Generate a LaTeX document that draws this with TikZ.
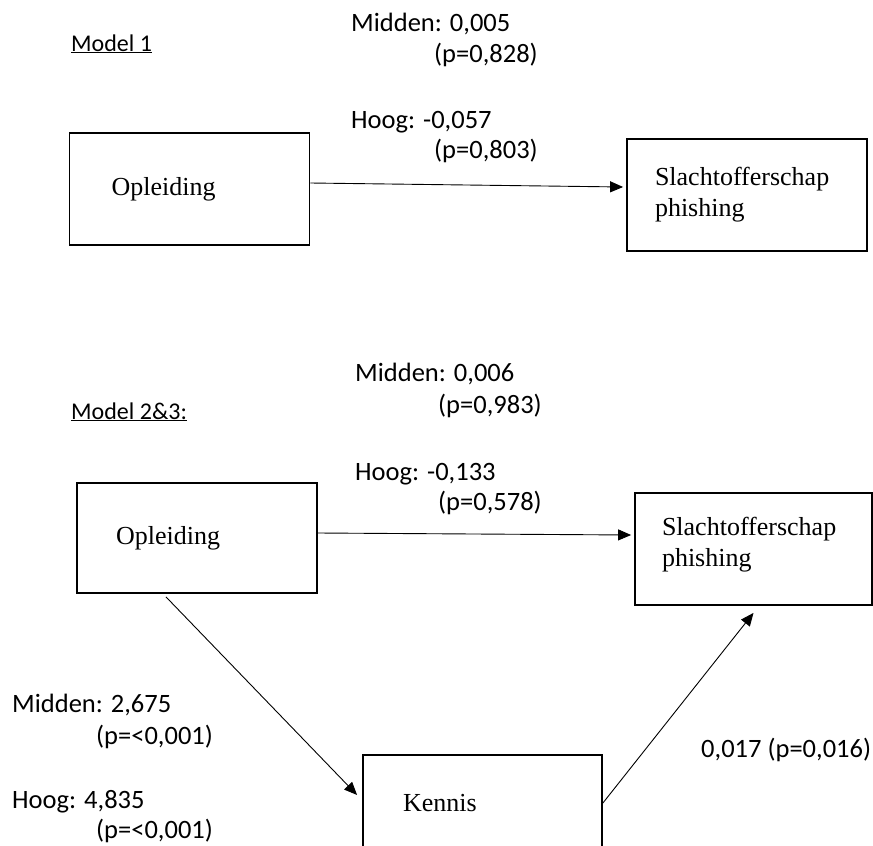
\documentclass[tikz,border=0pt]{standalone}
\usepackage{fontspec}
\setmainfont{Carlito}
\newfontfamily\boxfont{Liberation Serif}
\usetikzlibrary{arrows.meta}

\begin{document}
\begin{tikzpicture}[x=1pt,y=-1pt,
    box/.style={draw, line width=1.8pt, minimum height=112pt, inner ysep=0pt,
      align=left, font=\boxfont\fontsize{26}{31}\selectfont},
    lbl/.style={anchor=base west, inner sep=0pt, font=\fontsize{26.5}{31}\selectfont},
    head/.style={anchor=base west, inner sep=0pt, font=\fontsize{24}{28}\selectfont},
    conn/.style={line width=0.9pt, -{Triangle[length=13pt,width=11pt]}}]
  \useasboundingbox (0,0) rectangle (873,846);
  \clip (0,0) rectangle (873,846);

  % Model 1
  \node[head] (mod1) at (71,51) {\underline{Model 1}};
  \node[box, inner xsep=42pt, text width=156pt] (opl1) at (189.5,189) {Opleiding};
  \node[box, inner xsep=28pt, text width=184pt] (slo1) at (747,195) {Slachtofferschap\\phishing};

  \node[lbl] (mid1) at (351,31) {Midden: 0,005};
  \node[lbl] (pmid1) at (434,62) {(p=0,828)};
  \node[lbl] (hoog1) at (351,128) {Hoog: -0,057};
  \node[lbl] (phoog1) at (434,158) {(p=0,803)};

  \draw[conn] ([yshift=6pt]opl1.east) -- ([yshift=8pt,xshift=-3pt]slo1.west);

  % Model 2&3
  \node[head] (mod2) at (71,419) {\underline{Model 2\&3:}};
  \node[box, inner xsep=39pt, text width=162pt, minimum height=110pt] (opl2) at (197,538) {Opleiding};
  \node[box, inner xsep=27pt, text width=183pt, text depth=46pt] (slo2) at (753.5,549) {Slachtofferschap\\phishing};
  \node[box, inner xsep=40pt, text width=159pt, text depth=16pt] (ken) at (482.5,811) {Kennis};

  \node[lbl] (mid2) at (355,381) {Midden: 0,006};
  \node[lbl] (pmid2) at (438,413) {(p=0,983)};
  \node[lbl] (hoog2) at (355,480) {Hoog: -0,133};
  \node[lbl] (phoog2) at (438,510) {(p=0,578)};

  \node[lbl] (mid3) at (12,712) {Midden: 2,675};
  \node[lbl] (pmid3) at (96,744) {(p=<0,001)};
  \node[lbl] (hoog3) at (12,808) {Hoog: 4,835};
  \node[lbl] (phoog3) at (96,838) {(p=<0,001)};

  \node[lbl] (kenslo) at (701,757) {0,017 (p=0,016)};

  \draw[conn] ([yshift=5pt]opl2.east) -- ([yshift=14pt,xshift=-3pt]slo2.west);
  \draw[conn] ([xshift=-31pt,yshift=-3pt]opl2.south) -- ([xshift=-5pt,yshift=16pt]ken.west);
  \draw[conn] ([yshift=8pt]ken.east) -- ([yshift=-7pt]slo2.south);
\end{tikzpicture}
\end{document}
